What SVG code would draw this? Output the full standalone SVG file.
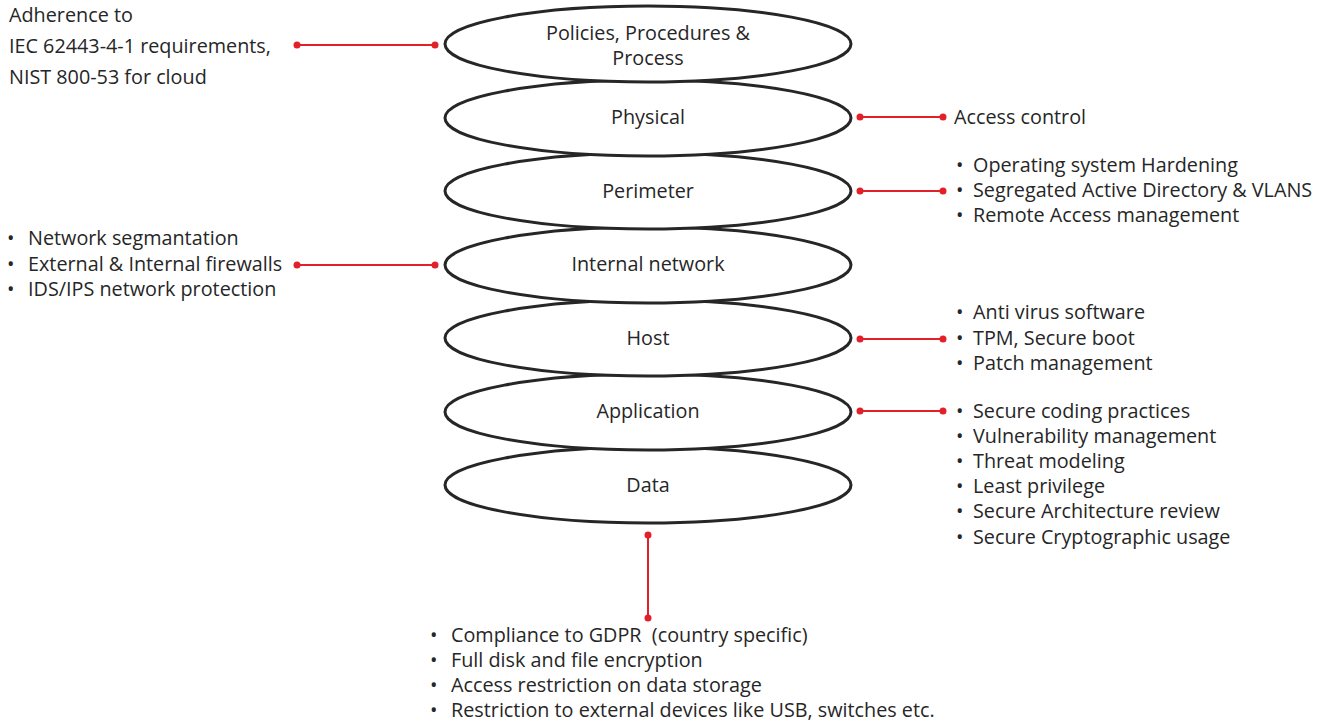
<svg xmlns="http://www.w3.org/2000/svg" width="1336" height="722" viewBox="0 0 1336 722">
<defs>
<style>
text{font-family:"Open Sans","Noto Sans",sans-serif;font-size:19.8px;fill:#262626}
.c{text-anchor:middle}
.layer ellipse{fill:#fff;stroke:#262626;stroke-width:3}
.conn line{stroke:#e3202a;stroke-width:2}
.conn circle{fill:#e3202a}
</style>
</defs>
<rect width="1336" height="722" fill="#fff"/>
<g id="data" class="layer"><ellipse cx="648" cy="485" rx="203" ry="38"/><text class="c" x="648" y="492">Data</text></g>
<g id="application" class="layer"><ellipse cx="648" cy="412" rx="203" ry="38"/><text class="c" x="648" y="418">Application</text></g>
<g id="host" class="layer"><ellipse cx="648" cy="338" rx="203" ry="38"/><text class="c" x="648" y="345">Host</text></g>
<g id="internal-network" class="layer"><ellipse cx="648" cy="265" rx="203" ry="38"/><text class="c" x="648" y="271">Internal network</text></g>
<g id="perimeter" class="layer"><ellipse cx="648" cy="191" rx="203" ry="38"/><text class="c" x="648" y="198">Perimeter</text></g>
<g id="physical" class="layer"><ellipse cx="648" cy="118" rx="203" ry="38"/><text class="c" x="648" y="124">Physical</text></g>
<g id="policies" class="layer"><ellipse cx="648" cy="44" rx="203" ry="38"/><text class="c" x="648" y="40">Policies, Procedures &amp;</text><text class="c" x="648" y="65">Process</text></g>

<g id="connectors" class="conn">
<line x1="297" y1="45" x2="435" y2="45"/><circle cx="297" cy="45" r="3.5"/><circle cx="435" cy="45" r="3.5"/>
<line x1="860" y1="117" x2="943" y2="117"/><circle cx="860" cy="117" r="3.5"/><circle cx="943" cy="117" r="3.5"/>
<line x1="860" y1="191" x2="943" y2="191"/><circle cx="860" cy="191" r="3.5"/><circle cx="943" cy="191" r="3.5"/>
<line x1="297" y1="265" x2="435" y2="265"/><circle cx="297" cy="265" r="3.5"/><circle cx="435" cy="265" r="3.5"/>
<line x1="860" y1="339" x2="943" y2="339"/><circle cx="860" cy="339" r="3.5"/><circle cx="943" cy="339" r="3.5"/>
<line x1="860" y1="411" x2="943" y2="411"/><circle cx="860" cy="411" r="3.5"/><circle cx="943" cy="411" r="3.5"/>
<line x1="648" y1="535" x2="648" y2="618"/><circle cx="648" cy="535" r="3.5"/><circle cx="648" cy="618" r="3.5"/>
</g>

<g id="note-policies">
<text x="9" y="22">Adherence to</text>
<text x="9" y="53">IEC 62443-4-1 requirements,</text>
<text x="9" y="84">NIST 800-53 for cloud</text>
</g>
<g id="note-physical"><text x="954" y="124">Access control</text></g>
<g id="note-perimeter">
<text x="956" y="172">•</text><text x="973" y="172">Operating system Hardening</text>
<text x="956" y="197">•</text><text x="973" y="197">Segregated Active Directory &amp; VLANS</text>
<text x="956" y="222">•</text><text x="973" y="222">Remote Access management</text>
</g>
<g id="note-internal">
<text x="7" y="245">•</text><text x="28" y="245">Network segmantation</text>
<text x="7" y="271">•</text><text x="28" y="271">External &amp; Internal firewalls</text>
<text x="7" y="296">•</text><text x="28" y="296">IDS/IPS network protection</text>
</g>
<g id="note-host">
<text x="956" y="319">•</text><text x="973" y="319">Anti virus software</text>
<text x="956" y="345">•</text><text x="973" y="345">TPM, Secure boot</text>
<text x="956" y="370">•</text><text x="973" y="370">Patch management</text>
</g>
<g id="note-application">
<text x="956" y="418">•</text><text x="973" y="418">Secure coding practices</text>
<text x="956" y="443">•</text><text x="973" y="443">Vulnerability management</text>
<text x="956" y="468">•</text><text x="973" y="468">Threat modeling</text>
<text x="956" y="493">•</text><text x="973" y="493">Least privilege</text>
<text x="956" y="518">•</text><text x="973" y="518">Secure Architecture review</text>
<text x="956" y="544">•</text><text x="973" y="544">Secure Cryptographic usage</text>
</g>
<g id="note-data">
<text x="430" y="642">•</text><text x="451" y="642" xml:space="preserve">Compliance to GDPR  (country specific)</text>
<text x="430" y="667">•</text><text x="451" y="667">Full disk and file encryption</text>
<text x="430" y="692">•</text><text x="451" y="692">Access restriction on data storage</text>
<text x="430" y="717">•</text><text x="451" y="717">Restriction to external devices like USB, switches etc.</text>
</g>
</svg>
